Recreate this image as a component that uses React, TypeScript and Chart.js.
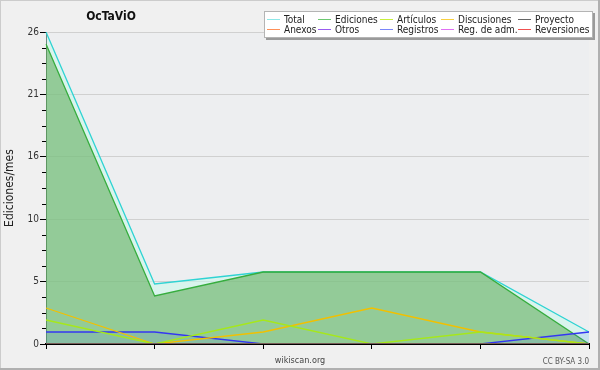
import React, { useEffect, useRef } from 'react';
import { Chart, registerables } from 'chart.js';

Chart.register(...registerables);

// ---- data ----
const months = ['1', '2', '3', '4', '5', '6'];
const seriesNames = ['Total', 'Ediciones', 'Artículos', 'Discusiones', 'Proyecto', 'Anexos', 'Otros', 'Registros', 'Reg. de adm.', 'Reversiones'];
const total = [26, 5, 6, 6, 6, 1];
const ediciones = [25, 4, 6, 6, 6, 0];
const articulos = [2, 0, 2, 0, 1, 0];
const discusiones = [3, 0, 1, 3, 1, 0];
const proyecto = [0, 0, 0, 0, 0, 0];
const anexos = [0, 0, 0, 0, 0, 0];
const otros = [0, 0, 0, 0, 0, 0];
const registros = [1, 1, 0, 0, 0, 1];
const regAdm = [0, 0, 0, 0, 0, 0];
const reversiones = [0, 0, 0, 0, 0, 0];
const yTickLabels = [0, 5, 10, 16, 21, 26];
const yMax = 26;
const chartTitle = 'OcTaViO';
const yTitle = 'Ediciones/mes';
const siteText = 'wikiscan.org';
const licenseText = 'CC BY-SA 3.0';

const seriesData = [total, ediciones, articulos, discusiones, proyecto, anexos, otros, registros, regAdm, reversiones];
const lineColors = ['#2fd3d3', '#36ad3e', '#a6e81a', '#f2c000', '#555555', '#ff8838', '#8a3cec', '#3436f2', '#dc44f4', '#f03434'];
const legendColors = ['#8ee8e8', '#6cc870', '#c8ef3c', '#f8d040', '#666666', '#ff9058', '#9a5cf0', '#7a86fa', '#e070f4', '#f05050'];
const fillColors: (string | null)[] = [
  'rgba(200, 250, 235, 0.55)',
  'rgba(78, 161, 67, 0.5)',
  null,
  null,
  null,
  null,
  null,
  'rgba(60, 100, 255, 0.12)',
  null,
  null,
];
const drawOrder = [12, 11, 3, 4, 1, 1, 1, 5, 1, 1];

function detectCondensed(): boolean {
  const c = document.createElement('canvas').getContext('2d');
  if (!c) return false;
  const s = 'Discusiones Reg. de adm. 0123456789';
  c.font = '20px monospace';
  const m = c.measureText(s).width;
  c.font = '20px "DejaVu Sans Condensed", monospace';
  const w = c.measureText(s).width;
  return Math.abs(w - m) > 0.5;
}

export default function App() {
  const ref = useRef<HTMLCanvasElement>(null);

  useEffect(() => {
    document.body.style.margin = '0';
    const cond = detectCondensed();
    const F = cond ? '"DejaVu Sans Condensed", "DejaVu Sans", sans-serif' : '"DejaVu Sans", sans-serif';
    const sz = cond
      ? { tick: 10, axis: 12, title: 12, legend: 10, site: 9, cc: 8 }
      : { tick: 9, axis: 11, title: 11, legend: 9, site: 8, cc: 7 };

    const bgPlugin = {
      id: 'bg',
      beforeDraw(chart: any) {
        const { ctx, chartArea } = chart;
        ctx.save();
        ctx.fillStyle = '#f0f0f0';
        ctx.fillRect(0, 0, chart.width, chart.height);
        ctx.fillStyle = '#edeef0';
        ctx.fillRect(chartArea.left, chartArea.top, chartArea.right - chartArea.left, chartArea.bottom - chartArea.top);
        ctx.restore();
      },
    };

    const overlayPlugin = {
      id: 'overlay',
      afterDraw(chart: any) {
        const { ctx, chartArea } = chart;
        const yScale = chart.scales.y;
        ctx.save();
        // minor ticks on the y axis
        ctx.fillStyle = '#000';
        const step = yMax / (yTickLabels.length - 1) / 4;
        for (let k = 1; k * step < yMax; k++) {
          if (k % 4 === 0) continue;
          const y = Math.round(yScale.getPixelForValue(k * step));
          ctx.fillRect(chartArea.left - 4, y, 4, 1);
        }

        // title
        ctx.fillStyle = '#111';
        ctx.font = `bold ${sz.title}px ${F}`;
        ctx.textAlign = 'center';
        ctx.textBaseline = 'middle';
        ctx.fillText(chartTitle, 111, 17);

        // legend box
        ctx.fillStyle = '#9a9a9a';
        ctx.fillRect(266, 38, 329, 2);
        ctx.fillRect(593, 13, 2, 27);
        ctx.fillStyle = '#ffffff';
        ctx.fillRect(264, 11, 329, 27);
        ctx.strokeStyle = '#b4b4b4';
        ctx.lineWidth = 1;
        ctx.strokeRect(264.5, 11.5, 328, 26);

        const cols = [267, 318, 380, 441, 518];
        const rows = [19, 29];
        ctx.font = `${sz.legend}px ${F}`;
        ctx.textAlign = 'left';
        ctx.textBaseline = 'middle';
        seriesNames.forEach((name, i) => {
          const cx = cols[i % 5];
          const cy = rows[Math.floor(i / 5)];
          ctx.fillStyle = legendColors[i];
          ctx.fillRect(cx, cy, 13, 1);
          ctx.fillStyle = '#222';
          ctx.fillText(name, cx + 17, cy + 1);
        });

        // footer texts
        ctx.fillStyle = '#444';
        ctx.font = `${sz.site}px ${F}`;
        ctx.textAlign = 'center';
        ctx.fillText(siteText, 300, 361);
        ctx.fillStyle = '#555';
        ctx.font = `${sz.cc}px ${F}`;
        ctx.textAlign = 'right';
        ctx.fillText(licenseText, 589, 362);

        // frame
        ctx.strokeStyle = '#cccccc';
        ctx.lineWidth = 1;
        ctx.strokeRect(0.5, 0.5, chart.width - 1, chart.height - 1);
        ctx.fillStyle = '#b0b0b0';
        ctx.fillRect(chart.width - 2, 0, 2, chart.height);
        ctx.fillRect(0, chart.height - 2, chart.width, 2);
        ctx.restore();
      },
    };

    const datasets = seriesNames.map((name, i) => ({
      label: name,
      data: seriesData[i],
      borderColor: lineColors[i],
      backgroundColor: fillColors[i] ?? 'rgba(0,0,0,0)',
      fill: fillColors[i] ? 'origin' : false,
      borderWidth: 1.3,
      pointRadius: 0,
      tension: 0,
      order: drawOrder[i],
    }));

    const chart = new Chart(ref.current as HTMLCanvasElement, {
      type: 'line',
      data: { labels: months, datasets: datasets as any },
      options: {
        animation: false,
        responsive: false,
        devicePixelRatio: 1,
        layout: { padding: { top: 32, right: 11, bottom: 0, left: 0 } },
        plugins: {
          legend: { display: false },
          title: { display: false },
          tooltip: { enabled: false },
        },
        scales: {
          x: {
            type: 'category',
            offset: false,
            z: 1,
            border: { display: true, color: '#000', width: 2 },
            grid: { drawOnChartArea: false, drawTicks: true, tickLength: 5, tickColor: '#000', tickWidth: 1, offset: false },
            ticks: { callback: () => '', autoSkip: false, maxRotation: 0, padding: 0 },
            afterFit: (s: any) => { s.height = 26; },
          },
          y: {
            min: 0,
            max: yMax,
            afterBuildTicks: (s: any) => {
              s.ticks = yTickLabels.map((_, i) => ({ value: (i * yMax) / (yTickLabels.length - 1) }));
            },
            afterFit: (s: any) => { s.width = 46; },
            border: { display: true, color: '#000', width: 1 },
            grid: { color: '#d0d0d0', lineWidth: 1, drawTicks: true, tickLength: 6, tickColor: '#000', tickWidth: 1 },
            ticks: {
              callback: (_v: any, i: number) => String(yTickLabels[i]),
              font: { family: F, size: sz.tick },
              color: '#333',
              padding: 1,
            },
            title: {
              display: true,
              text: yTitle,
              font: { family: F, size: sz.axis },
              color: '#222',
              padding: { top: 3, bottom: 0 },
            },
          },
        },
      } as any,
      plugins: [bgPlugin, overlayPlugin],
    });

    return () => chart.destroy();
  }, []);

  return (
    <div style={{ width: 600, height: 370 }}>
      <canvas ref={ref} width={600} height={370} style={{ display: 'block' }} />
    </div>
  );
}
